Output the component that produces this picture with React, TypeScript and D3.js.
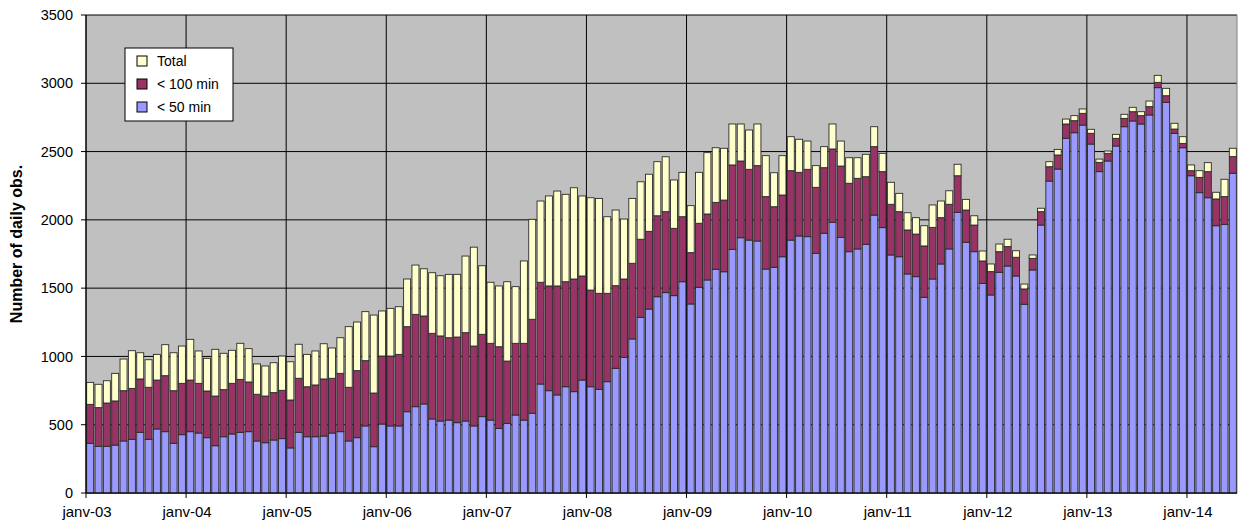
import React from 'react';
import * as d3 from 'd3';

// monthly values, janv-03 .. juin-14
const under50: number[] = [
  364, 342, 342, 351, 381, 393, 444, 393, 469, 449, 364, 427,
  449, 439, 405, 346, 412, 432, 444, 449, 381, 368, 388, 398,
  330, 444, 412, 412, 417, 439, 449, 381, 405, 491, 339, 505,
  491, 491, 595, 632, 652, 542, 527, 534, 515, 527, 491, 559,
  534, 473, 510, 571, 534, 584, 798, 749, 718, 778, 742, 827,
  778, 759, 815, 913, 993, 1128, 1286, 1347, 1437, 1467, 1445, 1547,
  1384, 1506, 1560, 1638, 1620, 1784, 1869, 1852, 1845, 1640, 1653, 1730,
  1852, 1882, 1877, 1755, 1902, 1982, 1872, 1767, 1787, 1821, 2035, 1943,
  1743, 1730, 1604, 1584, 1433, 1567, 1677, 1787, 2055, 1836, 1767, 1535,
  1450, 1616, 1662, 1589, 1382, 1633, 1962, 2284, 2372, 2597, 2638, 2694,
  2555, 2353, 2431, 2541, 2682, 2724, 2702, 2768, 2968, 2860, 2634, 2528,
  2323, 2199, 2162, 1957, 1967, 2341,
];

const under100: number[] = [
  649, 625, 659, 674, 749, 766, 835, 774, 827, 859, 749, 803,
  827, 803, 747, 710, 757, 803, 832, 813, 723, 710, 735, 752,
  681, 840, 778, 791, 835, 840, 876, 774, 896, 969, 732, 1003,
  1003, 1015, 1218, 1308, 1296, 1169, 1150, 1137, 1142, 1174, 1076, 1162,
  1096, 1071, 966, 1096, 1096, 1272, 1543, 1516, 1516, 1547, 1567, 1589,
  1486, 1462, 1462, 1518, 1567, 1682, 1858, 1916, 2030, 2060, 1938, 2023,
  1760, 1975, 2043, 2128, 2145, 2402, 2431, 2370, 2397, 2170, 2096, 2182,
  2360, 2348, 2370, 2238, 2382, 2519, 2394, 2268, 2304, 2316, 2536, 2353,
  2114, 2060, 1926, 1896, 1809, 1945, 2016, 2114, 2323, 2072, 1962, 1699,
  1621, 1767, 1804, 1726, 1494, 1718, 2060, 2389, 2475, 2702, 2726, 2780,
  2634, 2421, 2487, 2597, 2743, 2792, 2763, 2829, 3007, 2909, 2665, 2560,
  2360, 2311, 2353, 2153, 2170, 2463,
];

const total: number[] = [
  810, 796, 822, 876, 981, 1042, 1027, 976, 1015, 1086, 1027, 1076,
  1125, 1040, 986, 1052, 1023, 1045, 1096, 1057, 945, 930, 954, 1003,
  961, 1089, 1015, 1040, 1093, 1062, 1137, 1218, 1252, 1328, 1303, 1333,
  1352, 1364, 1567, 1669, 1642, 1613, 1591, 1601, 1601, 1735, 1800, 1664,
  1543, 1516, 1547, 1511, 1699, 2004, 2138, 2175, 2211, 2187, 2235, 2175,
  2162, 2157, 2023, 2072, 2006, 2157, 2279, 2334, 2426, 2462, 2292, 2348,
  2104, 2348, 2492, 2528, 2524, 2702, 2702, 2658, 2702, 2470, 2345, 2470,
  2609, 2590, 2577, 2397, 2536, 2702, 2577, 2455, 2455, 2480, 2682, 2487,
  2275, 2194, 2052, 2016, 1957, 2109, 2138, 2213, 2407, 2150, 2030, 1772,
  1677, 1823, 1858, 1774, 1530, 1743, 2085, 2426, 2516, 2738, 2763, 2812,
  2663, 2445, 2504, 2626, 2773, 2824, 2792, 2870, 3058, 2963, 2707, 2609,
  2402, 2360, 2419, 2202, 2297, 2524,
];

const yearLabels = ['janv-03', 'janv-04', 'janv-05', 'janv-06', 'janv-07', 'janv-08',
  'janv-09', 'janv-10', 'janv-11', 'janv-12', 'janv-13', 'janv-14'];

const yTicks = [0, 500, 1000, 1500, 2000, 2500, 3000, 3500];

const legendItems = [
  { label: 'Total', color: '#FFFFCC' },
  { label: '< 100 min', color: '#993366' },
  { label: '< 50 min', color: '#9999FF' },
];

const W = 1240;
const H = 527;
const margin = { top: 15, right: 3, bottom: 34, left: 86 };
const font = '"Liberation Sans", Arial, sans-serif';

const App: React.FC = () => {
  const months = d3.range(total.length);

  const x = d3.scaleBand<number>()
    .domain(months)
    .range([margin.left, W - margin.right])
    .paddingInner(0.16)
    .paddingOuter(0.08);

  const y = d3.scaleLinear()
    .domain([0, 3500])
    .range([H - margin.bottom, margin.top]);

  const step = x.step();
  const bw = x.bandwidth();
  const gap = step * 0.16;
  // left edge of a month's slot (used for year gridlines)
  const slotLeft = (i: number) => x(i)! - gap / 2;

  const segments = months.flatMap(i => [
    { i, y0: 0, y1: under50[i], color: '#9999FF' },
    { i, y0: under50[i], y1: under100[i], color: '#993366' },
    { i, y0: under100[i], y1: total[i], color: '#FFFFCC' },
  ]);

  const plotLeft = margin.left;
  const plotRight = W - margin.right;
  const plotBottom = y(0);

  return (
    <svg width={W} height={H} style={{ position: 'absolute', left: 0, top: 0, background: '#fff' }}
      fontFamily={font}>
      <rect x={plotLeft} y={y(3500)} width={plotRight - plotLeft} height={plotBottom - y(3500)} fill="#C0C0C0" />

      {/* horizontal gridlines */}
      {yTicks.map(t => (
        <line key={'h' + t} x1={plotLeft} x2={plotRight} y1={y(t)} y2={y(t)} stroke="#000" strokeWidth={1} />
      ))}
      {/* vertical gridlines at each january */}
      {yearLabels.map((_, k) => (
        <line key={'v' + k} x1={slotLeft(k * 12)} x2={slotLeft(k * 12)} y1={y(3500)} y2={plotBottom + 5}
          stroke="#000" strokeWidth={1} />
      ))}
      <line x1={plotRight} x2={plotRight} y1={y(3500)} y2={plotBottom} stroke="#808080" strokeWidth={1} />

      {/* bars */}
      {segments.filter(s => s.y1 > s.y0).map((s, k) => (
        <rect key={k} x={x(s.i)} width={bw} y={y(s.y1)} height={y(s.y0) - y(s.y1)}
          fill={s.color} stroke="#2a2a2a" strokeWidth={0.9} />
      ))}

      {/* axes */}
      <line x1={plotLeft} x2={plotLeft} y1={y(3500)} y2={plotBottom} stroke="#000" strokeWidth={1} />
      <line x1={plotLeft} x2={plotRight} y1={plotBottom} y2={plotBottom} stroke="#000" strokeWidth={1} />
      {yTicks.map(t => (
        <g key={'yt' + t}>
          <line x1={plotLeft - 5} x2={plotLeft} y1={y(t)} y2={y(t)} stroke="#000" />
          <text x={plotLeft - 13} y={y(t)} dy="0.35em" textAnchor="end" fontSize={14.5}>{t}</text>
        </g>
      ))}
      {yearLabels.map((lab, k) => (
        <text key={lab} x={slotLeft(k * 12) + 1} y={plotBottom + 24} textAnchor="middle" fontSize={15}>{lab}</text>
      ))}

      <text transform={`translate(22,${(y(3500) + plotBottom) / 2 - 10}) rotate(-90)`} textAnchor="middle"
        fontSize={16} fontWeight="bold">Number of daily obs.</text>

      {/* legend */}
      <g transform="translate(125,48)">
        <rect x={0} y={0} width={108} height={73} fill="#fff" stroke="#000" strokeWidth={1} />
        {legendItems.map((d, k) => (
          <g key={d.label} transform={`translate(12,${13 + k * 23})`}>
            <rect x={0} y={-5} width={10} height={10} fill={d.color} stroke="#000" strokeWidth={1} />
            <text x={20} y={0} dy="0.35em" fontSize={14}>{d.label}</text>
          </g>
        ))}
      </g>
    </svg>
  );
};

export default App;
